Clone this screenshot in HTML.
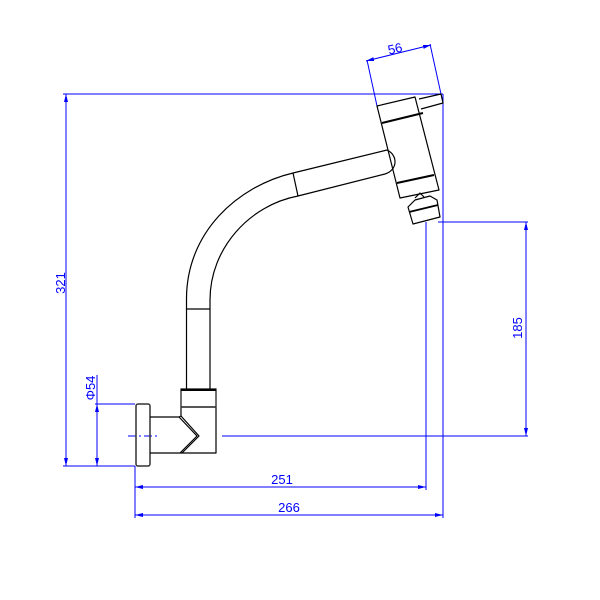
<!DOCTYPE html>
<html><head><meta charset="utf-8"><style>html,body{margin:0;padding:0;background:#fff}svg{display:block}</style></head>
<body>
<svg width="600" height="600" viewBox="0 0 600 600" xmlns="http://www.w3.org/2000/svg">
<defs>
<marker id="a" markerWidth="8" markerHeight="6" refX="8" refY="3" orient="auto-start-reverse" markerUnits="userSpaceOnUse"><path d="M0,1 L8,3 L0,5 z" fill="#0000ff"/></marker>
</defs>
<g stroke="#0000ff" stroke-width="1" fill="none">
<line x1="63" y1="94" x2="443" y2="94"/>
<line x1="66" y1="94" x2="66" y2="466" marker-start="url(#a)" marker-end="url(#a)"/>
<line x1="63" y1="466" x2="135" y2="466"/>
<line x1="95" y1="404" x2="135" y2="404"/>
<line x1="97" y1="375" x2="97" y2="466" />
<line x1="97" y1="404" x2="97" y2="466" marker-start="url(#a)" marker-end="url(#a)"/>
<line x1="128" y1="436" x2="158" y2="436" stroke-dasharray="8,3,2,3"/>
<line x1="222" y1="436" x2="528" y2="436"/>
<line x1="438" y1="222" x2="528" y2="222"/>
<line x1="526" y1="222" x2="526" y2="436" marker-start="url(#a)" marker-end="url(#a)"/>
<line x1="426" y1="222" x2="426" y2="490"/>
<line x1="443" y1="94" x2="443" y2="518"/>
<line x1="135" y1="466" x2="135" y2="518"/>
<line x1="135" y1="487" x2="426" y2="487" marker-start="url(#a)" marker-end="url(#a)"/>
<line x1="135" y1="515" x2="443" y2="515" marker-start="url(#a)" marker-end="url(#a)"/>
<line x1="367" y1="60" x2="377" y2="106"/>
<line x1="430" y1="44" x2="441" y2="94"/>
<line x1="366" y1="61" x2="431" y2="45" marker-start="url(#a)" marker-end="url(#a)"/>
</g>
<g fill="#0000ff" font-family="Liberation Sans, sans-serif" font-size="13">
<text x="396" y="53" text-anchor="middle" transform="rotate(-13 396 53)">56</text>
<text x="65" y="283" text-anchor="middle" transform="rotate(-90 65 283)">321</text>
<text x="95" y="388" text-anchor="middle" transform="rotate(-90 95 388)">Φ54</text>
<text x="522" y="328" text-anchor="middle" transform="rotate(-90 522 328)">185</text>
<text x="282" y="484" text-anchor="middle">251</text>
<text x="289" y="512" text-anchor="middle">266</text>
</g>
<g stroke="#000" stroke-width="1.2" fill="none" stroke-linejoin="round">
<rect x="136" y="404" width="14" height="62" rx="2" stroke="#333" stroke-width="1.5"/>
<path d="M150,417 L179,417 L197,436 L180,453 L150,453"/>
<path d="M179,417 L181,416 L199,436 L182,453"/>
<path d="M180,453 L216,453 L216,407 L181,407 L181,416"/>
<rect x="181" y="389" width="35" height="18" stroke="#333" stroke-width="1.4"/>
<line x1="181" y1="390" x2="216" y2="390" stroke-width="2"/>
<line x1="186.5" y1="300" x2="186.5" y2="389"/>
<line x1="210" y1="300" x2="210" y2="389"/>
<line x1="186.5" y1="309" x2="210" y2="309"/>
<path d="M186.5,300 C186,232 238,186 293,173"/>
<path d="M210,300 C210,248 250,205 298,196"/>
<line x1="293" y1="173" x2="298" y2="196"/>
<line x1="293" y1="173" x2="387" y2="150"/>
<line x1="298" y1="196" x2="385" y2="174"/>
<path d="M387,150 C398,155 398,170 385,174"/>
<path d="M377,106 L415,97 L439,190 L400,198 Z"/>
<path d="M419,99 L441,94 L443,103 L421,109"/>
<line x1="382" y1="123" x2="423" y2="113" stroke-width="2"/>
<line x1="397" y1="183" x2="434" y2="175" stroke-width="2"/>
<path d="M415,198 L420,193 L424,197"/>
<path d="M408,207 L415,200 L430,196 L437,200 L440,217 L413,224 Z"/>
<line x1="409" y1="212" x2="438" y2="205" stroke-width="1.8"/>
</g>
</svg>
</body></html>
